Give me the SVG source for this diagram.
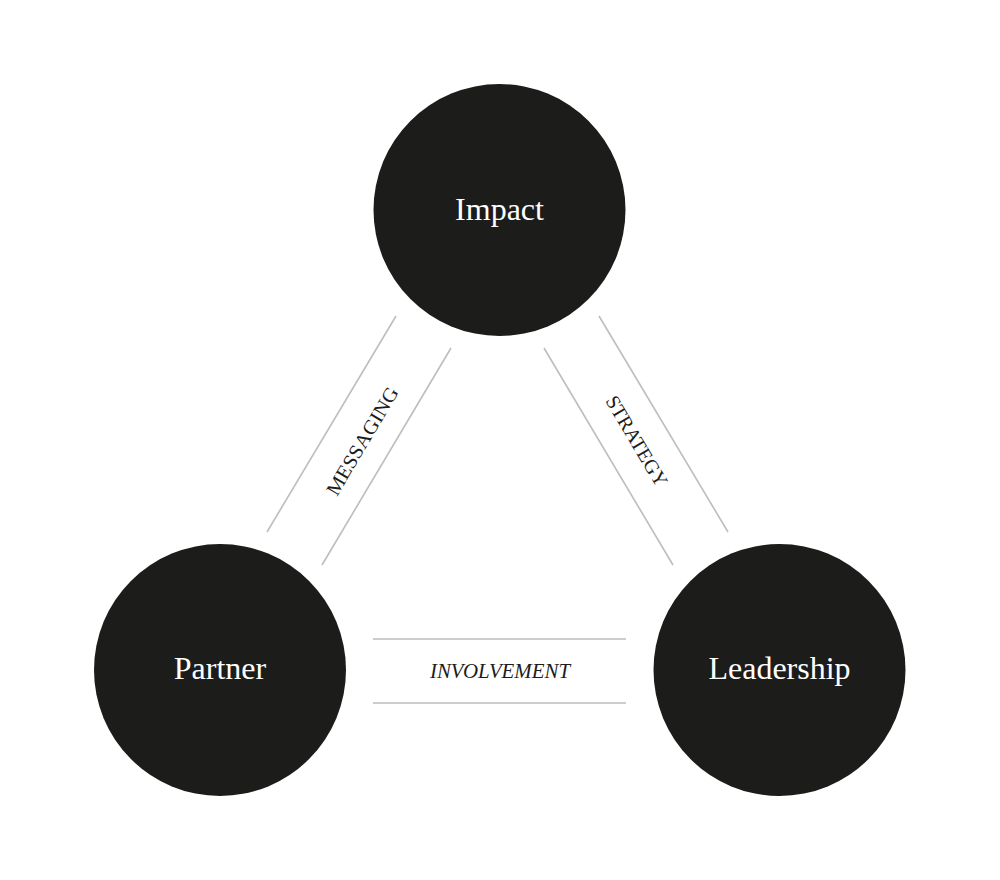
<svg xmlns="http://www.w3.org/2000/svg" width="1000" height="880" viewBox="0 0 1000 880">
<style>
.node{fill:#1c1c1a}
.nl{font-family:"Liberation Serif","DejaVu Serif",serif;font-size:32px;fill:#fff;text-anchor:middle}
.edge{stroke:#bdbdbd;stroke-width:1.6;fill:none}
.el{font-family:"Liberation Serif","DejaVu Serif",serif;font-size:20px;fill:#1c1c1a;text-anchor:middle}
</style>
<rect width="1000" height="880" fill="#fff"/>
<g id="connectors">
<line class="edge" x1="396" y1="316" x2="267" y2="532"/>
<line class="edge" x1="451" y1="348" x2="322" y2="565"/>
<text class="el" transform="translate(362,441) rotate(-59.3)" y="7" textLength="122" lengthAdjust="spacingAndGlyphs">MESSAGING</text>
<line class="edge" x1="544" y1="348" x2="673" y2="565"/>
<line class="edge" x1="599" y1="316" x2="728" y2="532"/>
<text class="el" transform="translate(637,441) rotate(59.3)" y="7" textLength="102" lengthAdjust="spacingAndGlyphs">STRATEGY</text>
<line class="edge" x1="373" y1="639" x2="626" y2="639"/>
<line class="edge" x1="373" y1="703" x2="626" y2="703"/>
<text class="el" x="500" y="678" font-style="italic" textLength="140" lengthAdjust="spacingAndGlyphs">INVOLVEMENT</text>
</g>
<g id="impact">
<circle class="node" cx="499.5" cy="210" r="126"/>
<text class="nl" x="499.5" y="220">Impact</text>
</g>
<g id="partner">
<circle class="node" cx="220" cy="670" r="126"/>
<text class="nl" x="220" y="679">Partner</text>
</g>
<g id="leadership">
<circle class="node" cx="779.5" cy="670" r="126"/>
<text class="nl" x="779.5" y="679">Leadership</text>
</g>
</svg>
